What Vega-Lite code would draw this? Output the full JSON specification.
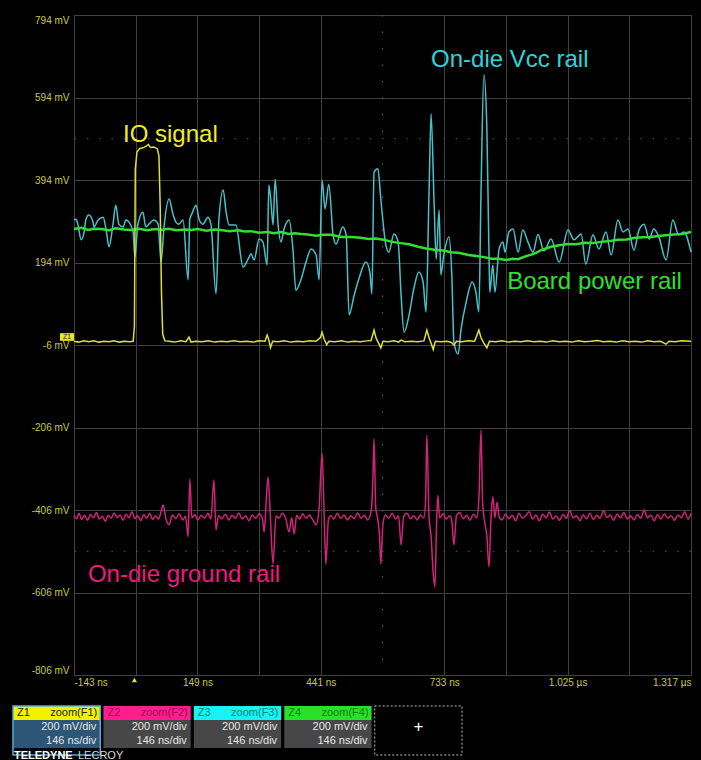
{
  "$schema": "https://vega.github.io/schema/vega-lite/v6.json",
  "background": "#000000",
  "padding": {"left": 8, "top": 13, "right": 11, "bottom": 0},
  "spacing": 9,
  "datasets": {
    "traces": [
      {"s":"m","t":-143,"v":-418},{"s":"m","t":-137,"v":-427},{"s":"m","t":-131,"v":-414},{"s":"m","t":-125,"v":-429},{"s":"m","t":-118,"v":-419},{"s":"m","t":-111,"v":-431},{"s":"m","t":-104,"v":-417},{"s":"m","t":-97,"v":-425},{"s":"m","t":-90,"v":-412},{"s":"m","t":-83,"v":-428},{"s":"m","t":-76,"v":-421},{"s":"m","t":-69,"v":-433},{"s":"m","t":-62,"v":-419},{"s":"m","t":-55,"v":-426},{"s":"m","t":-48,"v":-413},{"s":"m","t":-41,"v":-424},{"s":"m","t":-34,"v":-418},{"s":"m","t":-27,"v":-431},{"s":"m","t":-20,"v":-416},{"s":"m","t":-13,"v":-425},{"s":"m","t":-6,"v":-410},{"s":"m","t":1,"v":-427},{"s":"m","t":8,"v":-420},{"s":"m","t":15,"v":-432},{"s":"m","t":22,"v":-417},{"s":"m","t":29,"v":-426},{"s":"m","t":36,"v":-414},{"s":"m","t":43,"v":-429},{"s":"m","t":50,"v":-420},{"s":"m","t":57,"v":-428},{"s":"m","t":63,"v":-410},{"s":"m","t":68,"v":-394},{"s":"m","t":74,"v":-425},{"s":"m","t":82,"v":-442},{"s":"m","t":90,"v":-418},{"s":"m","t":98,"v":-427},{"s":"m","t":106,"v":-415},{"s":"m","t":114,"v":-430},{"s":"m","t":121,"v":-421},{"s":"m","t":127,"v":-471},{"s":"m","t":131,"v":-331},{"s":"m","t":136,"v":-425},{"s":"m","t":143,"v":-417},{"s":"m","t":150,"v":-430},{"s":"m","t":158,"v":-419},{"s":"m","t":166,"v":-426},{"s":"m","t":174,"v":-414},{"s":"m","t":181,"v":-428},{"s":"m","t":188,"v":-333},{"s":"m","t":193,"v":-454},{"s":"m","t":199,"v":-420},{"s":"m","t":207,"v":-427},{"s":"m","t":215,"v":-416},{"s":"m","t":223,"v":-430},{"s":"m","t":231,"v":-419},{"s":"m","t":239,"v":-426},{"s":"m","t":247,"v":-413},{"s":"m","t":255,"v":-428},{"s":"m","t":263,"v":-420},{"s":"m","t":271,"v":-432},{"s":"m","t":279,"v":-418},{"s":"m","t":287,"v":-426},{"s":"m","t":295,"v":-415},{"s":"m","t":303,"v":-428},{"s":"m","t":307,"v":-459},{"s":"m","t":311,"v":-400},{"s":"m","t":316,"v":-326},{"s":"m","t":322,"v":-430},{"s":"m","t":328,"v":-537},{"s":"m","t":335,"v":-420},{"s":"m","t":342,"v":-426},{"s":"m","t":350,"v":-414},{"s":"m","t":358,"v":-427},{"s":"m","t":366,"v":-459},{"s":"m","t":372,"v":-425},{"s":"m","t":378,"v":-464},{"s":"m","t":384,"v":-419},{"s":"m","t":391,"v":-428},{"s":"m","t":398,"v":-415},{"s":"m","t":406,"v":-426},{"s":"m","t":414,"v":-418},{"s":"m","t":422,"v":-430},{"s":"m","t":430,"v":-442},{"s":"m","t":437,"v":-400},{"s":"m","t":444,"v":-268},{"s":"m","t":449,"v":-420},{"s":"m","t":453,"v":-537},{"s":"m","t":459,"v":-430},{"s":"m","t":465,"v":-420},{"s":"m","t":472,"v":-428},{"s":"m","t":480,"v":-414},{"s":"m","t":488,"v":-426},{"s":"m","t":496,"v":-418},{"s":"m","t":504,"v":-430},{"s":"m","t":512,"v":-420},{"s":"m","t":520,"v":-427},{"s":"m","t":528,"v":-413},{"s":"m","t":536,"v":-426},{"s":"m","t":544,"v":-419},{"s":"m","t":552,"v":-430},{"s":"m","t":560,"v":-410},{"s":"m","t":564,"v":-338},{"s":"m","t":567,"v":-234},{"s":"m","t":571,"v":-400},{"s":"m","t":576,"v":-430},{"s":"m","t":580,"v":-470},{"s":"m","t":583,"v":-537},{"s":"m","t":588,"v":-440},{"s":"m","t":594,"v":-418},{"s":"m","t":602,"v":-426},{"s":"m","t":610,"v":-414},{"s":"m","t":618,"v":-428},{"s":"m","t":625,"v":-420},{"s":"m","t":631,"v":-491},{"s":"m","t":637,"v":-422},{"s":"m","t":645,"v":-414},{"s":"m","t":653,"v":-427},{"s":"m","t":661,"v":-420},{"s":"m","t":669,"v":-430},{"s":"m","t":677,"v":-418},{"s":"m","t":685,"v":-425},{"s":"m","t":689,"v":-380},{"s":"m","t":692,"v":-224},{"s":"m","t":697,"v":-420},{"s":"m","t":702,"v":-470},{"s":"m","t":707,"v":-560},{"s":"m","t":711,"v":-593},{"s":"m","t":715,"v":-440},{"s":"m","t":718,"v":-370},{"s":"m","t":722,"v":-425},{"s":"m","t":730,"v":-415},{"s":"m","t":738,"v":-428},{"s":"m","t":746,"v":-420},{"s":"m","t":751,"v":-432},{"s":"m","t":756,"v":-491},{"s":"m","t":762,"v":-420},{"s":"m","t":770,"v":-412},{"s":"m","t":778,"v":-427},{"s":"m","t":786,"v":-419},{"s":"m","t":794,"v":-431},{"s":"m","t":802,"v":-416},{"s":"m","t":810,"v":-425},{"s":"m","t":815,"v":-380},{"s":"m","t":820,"v":-212},{"s":"m","t":824,"v":-390},{"s":"m","t":828,"v":-430},{"s":"m","t":834,"v":-470},{"s":"m","t":839,"v":-544},{"s":"m","t":844,"v":-420},{"s":"m","t":848,"v":-374},{"s":"m","t":853,"v":-425},{"s":"m","t":858,"v":-387},{"s":"m","t":863,"v":-422},{"s":"m","t":870,"v":-430},{"s":"m","t":878,"v":-416},{"s":"m","t":886,"v":-427},{"s":"m","t":894,"v":-419},{"s":"m","t":902,"v":-432},{"s":"m","t":910,"v":-414},{"s":"m","t":918,"v":-426},{"s":"m","t":926,"v":-420},{"s":"m","t":934,"v":-410},{"s":"m","t":942,"v":-428},{"s":"m","t":950,"v":-418},{"s":"m","t":958,"v":-432},{"s":"m","t":966,"v":-416},{"s":"m","t":974,"v":-425},{"s":"m","t":982,"v":-411},{"s":"m","t":990,"v":-428},{"s":"m","t":998,"v":-420},{"s":"m","t":1006,"v":-431},{"s":"m","t":1014,"v":-417},{"s":"m","t":1022,"v":-426},{"s":"m","t":1030,"v":-407},{"s":"m","t":1038,"v":-425},{"s":"m","t":1046,"v":-420},{"s":"m","t":1054,"v":-432},{"s":"m","t":1062,"v":-418},{"s":"m","t":1070,"v":-427},{"s":"m","t":1078,"v":-414},{"s":"m","t":1086,"v":-429},{"s":"m","t":1094,"v":-419},{"s":"m","t":1102,"v":-426},{"s":"m","t":1110,"v":-408},{"s":"m","t":1118,"v":-424},{"s":"m","t":1126,"v":-418},{"s":"m","t":1134,"v":-431},{"s":"m","t":1142,"v":-416},{"s":"m","t":1150,"v":-425},{"s":"m","t":1158,"v":-412},{"s":"m","t":1166,"v":-428},{"s":"m","t":1174,"v":-420},{"s":"m","t":1182,"v":-430},{"s":"m","t":1190,"v":-417},{"s":"m","t":1198,"v":-426},{"s":"m","t":1206,"v":-406},{"s":"m","t":1214,"v":-425},{"s":"m","t":1222,"v":-419},{"s":"m","t":1230,"v":-432},{"s":"m","t":1238,"v":-417},{"s":"m","t":1246,"v":-428},{"s":"m","t":1254,"v":-415},{"s":"m","t":1262,"v":-426},{"s":"m","t":1270,"v":-420},{"s":"m","t":1278,"v":-431},{"s":"m","t":1286,"v":-418},{"s":"m","t":1294,"v":-425},{"s":"m","t":1302,"v":-410},{"s":"m","t":1310,"v":-428},{"s":"m","t":1317,"v":-414},

      {"s":"c","t":-143,"v":297},{"s":"c","t":-138,"v":299},{"s":"c","t":-134,"v":287},{"s":"c","t":-126,"v":249},{"s":"c","t":-119,"v":268},{"s":"c","t":-115,"v":297},{"s":"c","t":-108,"v":309},{"s":"c","t":-98,"v":292},{"s":"c","t":-96,"v":280},{"s":"c","t":-86,"v":297},{"s":"c","t":-74,"v":304},{"s":"c","t":-67,"v":273},{"s":"c","t":-60,"v":232},{"s":"c","t":-51,"v":285},{"s":"c","t":-44,"v":333},{"s":"c","t":-37,"v":287},{"s":"c","t":-27,"v":280},{"s":"c","t":-20,"v":297},{"s":"c","t":-13,"v":292},{"s":"c","t":-3,"v":268},{"s":"c","t":1,"v":207},{"s":"c","t":8,"v":285},{"s":"c","t":20,"v":316},{"s":"c","t":27,"v":280},{"s":"c","t":34,"v":287},{"s":"c","t":46,"v":297},{"s":"c","t":56,"v":287},{"s":"c","t":63,"v":195},{"s":"c","t":70,"v":280},{"s":"c","t":82,"v":348},{"s":"c","t":91,"v":312},{"s":"c","t":98,"v":292},{"s":"c","t":105,"v":287},{"s":"c","t":115,"v":297},{"s":"c","t":127,"v":152},{"s":"c","t":131,"v":299},{"s":"c","t":136,"v":312},{"s":"c","t":146,"v":333},{"s":"c","t":153,"v":299},{"s":"c","t":162,"v":287},{"s":"c","t":174,"v":304},{"s":"c","t":181,"v":287},{"s":"c","t":193,"v":118},{"s":"c","t":200,"v":299},{"s":"c","t":210,"v":370},{"s":"c","t":217,"v":316},{"s":"c","t":224,"v":285},{"s":"c","t":240,"v":285},{"s":"c","t":257,"v":183},{"s":"c","t":269,"v":202},{"s":"c","t":276,"v":215},{"s":"c","t":283,"v":200},{"s":"c","t":295,"v":251},{"s":"c","t":304,"v":244},{"s":"c","t":314,"v":188},{"s":"c","t":318,"v":382},{"s":"c","t":323,"v":341},{"s":"c","t":328,"v":285},{"s":"c","t":333,"v":396},{"s":"c","t":340,"v":285},{"s":"c","t":347,"v":244},{"s":"c","t":354,"v":275},{"s":"c","t":366,"v":297},{"s":"c","t":375,"v":227},{"s":"c","t":382,"v":127},{"s":"c","t":394,"v":152},{"s":"c","t":406,"v":195},{"s":"c","t":418,"v":227},{"s":"c","t":430,"v":212},{"s":"c","t":437,"v":152},{"s":"c","t":444,"v":394},{"s":"c","t":451,"v":324},{"s":"c","t":460,"v":384},{"s":"c","t":470,"v":261},{"s":"c","t":477,"v":239},{"s":"c","t":493,"v":280},{"s":"c","t":501,"v":261},{"s":"c","t":508,"v":67},{"s":"c","t":520,"v":115},{"s":"c","t":531,"v":154},{"s":"c","t":548,"v":195},{"s":"c","t":557,"v":171},{"s":"c","t":562,"v":118},{"s":"c","t":567,"v":413},{"s":"c","t":576,"v":421},{"s":"c","t":583,"v":348},{"s":"c","t":595,"v":236},{"s":"c","t":602,"v":219},{"s":"c","t":614,"v":263},{"s":"c","t":624,"v":244},{"s":"c","t":631,"v":115},{"s":"c","t":638,"v":25},{"s":"c","t":650,"v":67},{"s":"c","t":661,"v":130},{"s":"c","t":673,"v":171},{"s":"c","t":683,"v":147},{"s":"c","t":690,"v":74},{"s":"c","t":697,"v":358},{"s":"c","t":702,"v":554},{"s":"c","t":709,"v":341},{"s":"c","t":714,"v":202},{"s":"c","t":721,"v":321},{"s":"c","t":725,"v":164},{"s":"c","t":732,"v":212},{"s":"c","t":744,"v":256},{"s":"c","t":751,"v":164},{"s":"c","t":756,"v":1},{"s":"c","t":766,"v":-28},{"s":"c","t":773,"v":33},{"s":"c","t":785,"v":98},{"s":"c","t":799,"v":147},{"s":"c","t":808,"v":122},{"s":"c","t":815,"v":74},{"s":"c","t":820,"v":358},{"s":"c","t":827,"v":649},{"s":"c","t":834,"v":518},{"s":"c","t":839,"v":212},{"s":"c","t":841,"v":122},{"s":"c","t":848,"v":188},{"s":"c","t":853,"v":122},{"s":"c","t":863,"v":227},{"s":"c","t":872,"v":244},{"s":"c","t":877,"v":219},{"s":"c","t":886,"v":268},{"s":"c","t":896,"v":275},{"s":"c","t":908,"v":219},{"s":"c","t":919,"v":273},{"s":"c","t":931,"v":244},{"s":"c","t":943,"v":219},{"s":"c","t":955,"v":262},{"s":"c","t":969,"v":222},{"s":"c","t":986,"v":251},{"s":"c","t":1005,"v":195},{"s":"c","t":1026,"v":273},{"s":"c","t":1040,"v":249},{"s":"c","t":1057,"v":263},{"s":"c","t":1068,"v":190},{"s":"c","t":1085,"v":261},{"s":"c","t":1099,"v":227},{"s":"c","t":1116,"v":268},{"s":"c","t":1128,"v":212},{"s":"c","t":1144,"v":297},{"s":"c","t":1156,"v":268},{"s":"c","t":1168,"v":275},{"s":"c","t":1182,"v":224},{"s":"c","t":1194,"v":273},{"s":"c","t":1206,"v":287},{"s":"c","t":1218,"v":251},{"s":"c","t":1229,"v":275},{"s":"c","t":1241,"v":256},{"s":"c","t":1258,"v":200},{"s":"c","t":1274,"v":297},{"s":"c","t":1288,"v":261},{"s":"c","t":1300,"v":268},{"s":"c","t":1317,"v":219},

      {"s":"g","t":-143,"v":275},{"s":"g","t":-125,"v":278},{"s":"g","t":-110,"v":273},{"s":"g","t":-95,"v":276},{"s":"g","t":-79,"v":275},{"s":"g","t":-60,"v":272},{"s":"g","t":-45,"v":277},{"s":"g","t":-25,"v":274},{"s":"g","t":-8,"v":273},{"s":"g","t":10,"v":276},{"s":"g","t":30,"v":272},{"s":"g","t":50,"v":275},{"s":"g","t":63,"v":273},{"s":"g","t":80,"v":276},{"s":"g","t":100,"v":272},{"s":"g","t":120,"v":274},{"s":"g","t":134,"v":273},{"s":"g","t":150,"v":275},{"s":"g","t":170,"v":271},{"s":"g","t":190,"v":274},{"s":"g","t":205,"v":273},{"s":"g","t":225,"v":270},{"s":"g","t":245,"v":272},{"s":"g","t":262,"v":269},{"s":"g","t":276,"v":270},{"s":"g","t":295,"v":266},{"s":"g","t":315,"v":268},{"s":"g","t":330,"v":265},{"s":"g","t":347,"v":268},{"s":"g","t":365,"v":263},{"s":"g","t":380,"v":265},{"s":"g","t":394,"v":263},{"s":"g","t":410,"v":262},{"s":"g","t":430,"v":259},{"s":"g","t":445,"v":261},{"s":"g","t":465,"v":261},{"s":"g","t":490,"v":256},{"s":"g","t":512,"v":256},{"s":"g","t":535,"v":254},{"s":"g","t":555,"v":251},{"s":"g","t":570,"v":252},{"s":"g","t":590,"v":249},{"s":"g","t":610,"v":244},{"s":"g","t":630,"v":241},{"s":"g","t":650,"v":238},{"s":"g","t":671,"v":232},{"s":"g","t":690,"v":228},{"s":"g","t":710,"v":225},{"s":"g","t":730,"v":223},{"s":"g","t":749,"v":219},{"s":"g","t":770,"v":217},{"s":"g","t":790,"v":212},{"s":"g","t":810,"v":210},{"s":"g","t":827,"v":207},{"s":"g","t":845,"v":203},{"s":"g","t":860,"v":203},{"s":"g","t":880,"v":200},{"s":"g","t":895,"v":203},{"s":"g","t":908,"v":202},{"s":"g","t":925,"v":209},{"s":"g","t":945,"v":215},{"s":"g","t":965,"v":225},{"s":"g","t":986,"v":232},{"s":"g","t":1005,"v":236},{"s":"g","t":1026,"v":239},{"s":"g","t":1045,"v":238},{"s":"g","t":1065,"v":242},{"s":"g","t":1085,"v":241},{"s":"g","t":1104,"v":244},{"s":"g","t":1125,"v":246},{"s":"g","t":1144,"v":249},{"s":"g","t":1165,"v":250},{"s":"g","t":1185,"v":254},{"s":"g","t":1205,"v":255},{"s":"g","t":1222,"v":256},{"s":"g","t":1245,"v":259},{"s":"g","t":1270,"v":261},{"s":"g","t":1295,"v":263},{"s":"g","t":1317,"v":268},

      {"s":"y","t":-143,"v":3},{"s":"y","t":-132,"v":1},{"s":"y","t":-120,"v":4},{"s":"y","t":-108,"v":2},{"s":"y","t":-96,"v":4},{"s":"y","t":-84,"v":1},{"s":"y","t":-72,"v":3},{"s":"y","t":-60,"v":2},{"s":"y","t":-48,"v":4},{"s":"y","t":-36,"v":1},{"s":"y","t":-24,"v":3},{"s":"y","t":-12,"v":2},{"s":"y","t":-3,"v":3},{"s":"y","t":0,"v":40},{"s":"y","t":2,"v":420},{"s":"y","t":6,"v":462},{"s":"y","t":12,"v":470},{"s":"y","t":20,"v":472},{"s":"y","t":28,"v":476},{"s":"y","t":33,"v":480},{"s":"y","t":38,"v":473},{"s":"y","t":46,"v":474},{"s":"y","t":54,"v":470},{"s":"y","t":58,"v":452},{"s":"y","t":61,"v":330},{"s":"y","t":64,"v":120},{"s":"y","t":67,"v":20},{"s":"y","t":72,"v":4},{"s":"y","t":82,"v":3},{"s":"y","t":95,"v":1},{"s":"y","t":110,"v":4},{"s":"y","t":122,"v":2},{"s":"y","t":129,"v":13},{"s":"y","t":134,"v":1},{"s":"y","t":145,"v":3},{"s":"y","t":160,"v":2},{"s":"y","t":175,"v":4},{"s":"y","t":190,"v":1},{"s":"y","t":205,"v":3},{"s":"y","t":220,"v":2},{"s":"y","t":235,"v":4},{"s":"y","t":250,"v":2},{"s":"y","t":265,"v":3},{"s":"y","t":280,"v":1},{"s":"y","t":295,"v":4},{"s":"y","t":309,"v":3},{"s":"y","t":314,"v":18},{"s":"y","t":318,"v":6},{"s":"y","t":322,"v":-12},{"s":"y","t":327,"v":3},{"s":"y","t":340,"v":2},{"s":"y","t":355,"v":4},{"s":"y","t":370,"v":1},{"s":"y","t":385,"v":3},{"s":"y","t":400,"v":2},{"s":"y","t":415,"v":4},{"s":"y","t":430,"v":3},{"s":"y","t":440,"v":12},{"s":"y","t":444,"v":25},{"s":"y","t":449,"v":8},{"s":"y","t":455,"v":-5},{"s":"y","t":460,"v":3},{"s":"y","t":475,"v":2},{"s":"y","t":490,"v":4},{"s":"y","t":505,"v":1},{"s":"y","t":520,"v":3},{"s":"y","t":535,"v":2},{"s":"y","t":550,"v":4},{"s":"y","t":560,"v":5},{"s":"y","t":567,"v":30},{"s":"y","t":572,"v":10},{"s":"y","t":578,"v":-2},{"s":"y","t":583,"v":-13},{"s":"y","t":588,"v":3},{"s":"y","t":600,"v":2},{"s":"y","t":615,"v":4},{"s":"y","t":625,"v":1},{"s":"y","t":631,"v":6},{"s":"y","t":640,"v":2},{"s":"y","t":655,"v":3},{"s":"y","t":670,"v":2},{"s":"y","t":685,"v":4},{"s":"y","t":692,"v":30},{"s":"y","t":697,"v":12},{"s":"y","t":703,"v":-5},{"s":"y","t":707,"v":-17},{"s":"y","t":712,"v":3},{"s":"y","t":725,"v":2},{"s":"y","t":740,"v":3},{"s":"y","t":750,"v":0},{"s":"y","t":756,"v":-6},{"s":"y","t":762,"v":3},{"s":"y","t":775,"v":2},{"s":"y","t":790,"v":4},{"s":"y","t":805,"v":3},{"s":"y","t":815,"v":30},{"s":"y","t":820,"v":12},{"s":"y","t":826,"v":0},{"s":"y","t":834,"v":-13},{"s":"y","t":840,"v":3},{"s":"y","t":855,"v":2},{"s":"y","t":870,"v":4},{"s":"y","t":885,"v":1},{"s":"y","t":900,"v":3},{"s":"y","t":915,"v":2},{"s":"y","t":930,"v":4},{"s":"y","t":945,"v":2},{"s":"y","t":960,"v":3},{"s":"y","t":975,"v":1},{"s":"y","t":990,"v":4},{"s":"y","t":1005,"v":2},{"s":"y","t":1020,"v":3},{"s":"y","t":1035,"v":1},{"s":"y","t":1050,"v":4},{"s":"y","t":1065,"v":2},{"s":"y","t":1080,"v":3},{"s":"y","t":1095,"v":5},{"s":"y","t":1110,"v":2},{"s":"y","t":1125,"v":3},{"s":"y","t":1140,"v":1},{"s":"y","t":1155,"v":4},{"s":"y","t":1170,"v":2},{"s":"y","t":1185,"v":3},{"s":"y","t":1200,"v":1},{"s":"y","t":1215,"v":4},{"s":"y","t":1230,"v":2},{"s":"y","t":1245,"v":3},{"s":"y","t":1258,"v":-4},{"s":"y","t":1265,"v":3},{"s":"y","t":1280,"v":2},{"s":"y","t":1295,"v":4},{"s":"y","t":1317,"v":3}
    ],
    "notes": [
      {"label": "IO signal", "t": -27, "v": 503},
      {"label": "On-die Vcc rail", "t": 702, "v": 685},
      {"label": "Board power rail", "t": 882, "v": 147},
      {"label": "On-die ground rail", "t": -110, "v": -564}
    ],
    "panel": [
      {"ch": "Z1", "part": "header", "left": "Z1", "right": "zoom(F1)"},
      {"ch": "Z1", "part": "line1", "right": "200 mV/div"},
      {"ch": "Z1", "part": "line2", "right": "146 ns/div"},
      {"ch": "Z2", "part": "header", "left": "Z2", "right": "zoom(F2)"},
      {"ch": "Z2", "part": "line1", "right": "200 mV/div"},
      {"ch": "Z2", "part": "line2", "right": "146 ns/div"},
      {"ch": "Z3", "part": "header", "left": "Z3", "right": "zoom(F3)"},
      {"ch": "Z3", "part": "line1", "right": "200 mV/div"},
      {"ch": "Z3", "part": "line2", "right": "146 ns/div"},
      {"ch": "Z4", "part": "header", "left": "Z4", "right": "zoom(F4)"},
      {"ch": "Z4", "part": "line1", "right": "200 mV/div"},
      {"ch": "Z4", "part": "line2", "right": "146 ns/div"},
      {"ch": "+", "part": "line1", "right": "+"},
      {"ch": "Z1", "part": "footer", "brand": "TELEDYNE", "brand2": "LECROY"}
    ]
  },
  "vconcat": [
    {
      "width": 617,
      "height": 660,
      "layer": [
        {
          "data": {"name": "traces"},
          "transform": [{"filter": "datum.s === 'm'"}],
          "mark": {"type": "line", "color": "#d0237a", "strokeWidth": 1.5, "interpolate": "monotone"},
          "encoding": {
            "x": {"field": "t", "type": "quantitative", "title": null,
              "scale": {"domain": [-143, 1317], "nice": false, "zero": false},
              "axis": {"values": [-143, 3, 149, 295, 441, 733, 879, 1025, 1171, 1317],
                "labelExpr": "indexof([-143,149,441,733,1025,1317], datum.value) >= 0 ? (datum.value >= 1000 ? format(datum.value / 1000, '.3f') + ' µs' : datum.value + ' ns') : ''",
                "labelFlush": true, "labelOverlap": false, "labelPadding": 2, "minExtent": 20, "maxExtent": 20, "grid": true}},
            "y": {"field": "v", "type": "quantitative", "title": null,
              "scale": {"domain": [-806, 794], "nice": false, "zero": false},
              "axis": {"values": [-806, -606, -406, -206, -6, 194, 394, 594, 794],
                "labelExpr": "datum.value + ' mV'",
                "labelFlush": true, "labelOverlap": false, "labelPadding": 5, "minExtent": 65, "maxExtent": 65, "grid": true}}
          }
        },
        {
          "data": {"values": [{"v": 494}, {"v": -506}]},
          "mark": {"type": "rule", "color": "#5a5a5a", "strokeWidth": 1.2, "strokeDash": [1.5, 10.8]},
          "encoding": {
            "y": {"field": "v", "type": "quantitative", "title": null, "scale": {"domain": [-806, 794], "nice": false, "zero": false}}
          }
        },
        {
          "data": {"values": [{"t": 587}]},
          "mark": {"type": "rule", "color": "#5a5a5a", "strokeWidth": 1.2, "strokeDash": [1.5, 15]},
          "encoding": {
            "x": {"field": "t", "type": "quantitative", "title": null, "scale": {"domain": [-143, 1317], "nice": false, "zero": false}}
          }
        },
        {
          "data": {"name": "traces"},
          "transform": [{"filter": "datum.s === 'c'"}],
          "mark": {"type": "line", "color": "#45c3cc", "strokeWidth": 1.5, "interpolate": "monotone"},
          "encoding": {
            "x": {"field": "t", "type": "quantitative", "title": null, "scale": {"domain": [-143, 1317], "nice": false, "zero": false}},
            "y": {"field": "v", "type": "quantitative", "title": null, "scale": {"domain": [-806, 794], "nice": false, "zero": false}}
          }
        },
        {
          "data": {"name": "traces"},
          "transform": [{"filter": "datum.s === 'g'"}],
          "mark": {"type": "line", "color": "#33dd33", "strokeWidth": 2.5},
          "encoding": {
            "x": {"field": "t", "type": "quantitative", "title": null, "scale": {"domain": [-143, 1317], "nice": false, "zero": false}},
            "y": {"field": "v", "type": "quantitative", "title": null, "scale": {"domain": [-806, 794], "nice": false, "zero": false}}
          }
        },
        {
          "data": {"name": "traces"},
          "transform": [{"filter": "datum.s === 'y'"}],
          "mark": {"type": "line", "color": "#dede3c", "strokeWidth": 1.5},
          "encoding": {
            "x": {"field": "t", "type": "quantitative", "title": null, "scale": {"domain": [-143, 1317], "nice": false, "zero": false}},
            "y": {"field": "v", "type": "quantitative", "title": null, "scale": {"domain": [-806, 794], "nice": false, "zero": false}}
          }
        },
        {
          "data": {"name": "notes"},
          "mark": {"type": "text", "align": "left", "baseline": "middle", "fontSize": 24, "font": "Liberation Sans"},
          "encoding": {
            "x": {"field": "t", "type": "quantitative", "title": null, "scale": {"domain": [-143, 1317], "nice": false, "zero": false}},
            "y": {"field": "v", "type": "quantitative", "title": null, "scale": {"domain": [-806, 794], "nice": false, "zero": false}},
            "text": {"field": "label"},
            "color": {"field": "label", "type": "nominal", "legend": null,
              "scale": {"domain": ["IO signal", "On-die Vcc rail", "Board power rail", "On-die ground rail"],
                "range": ["#eeee22", "#2cd4dc", "#2ee02e", "#ee1a7e"]}}
          }
        },
        {
          "data": {"values": [{"t": -143, "v": -6, "tag": "Z1"}]},
          "mark": {"type": "point", "shape": "M-1,-0.55H1V0.55H-1Z", "size": 196, "filled": true, "color": "#e8e820", "opacity": 1, "xOffset": -7, "yOffset": -8},
          "encoding": {
            "x": {"field": "t", "type": "quantitative", "title": null, "scale": {"domain": [-143, 1317], "nice": false, "zero": false}},
            "y": {"field": "v", "type": "quantitative", "title": null, "scale": {"domain": [-806, 794], "nice": false, "zero": false}}
          }
        },
        {
          "data": {"values": [{"t": -143, "v": -6, "tag": "Z1"}]},
          "mark": {"type": "text", "fontSize": 7, "color": "#222222", "xOffset": -7, "yOffset": -8, "baseline": "middle", "align": "center"},
          "encoding": {
            "x": {"field": "t", "type": "quantitative", "title": null, "scale": {"domain": [-143, 1317], "nice": false, "zero": false}},
            "y": {"field": "v", "type": "quantitative", "title": null, "scale": {"domain": [-806, 794], "nice": false, "zero": false}},
            "text": {"field": "tag"}
          }
        },
        {
          "data": {"values": [{"t": 0, "v": -806}]},
          "mark": {"type": "point", "shape": "triangle-up", "size": 25, "filled": true, "color": "#e8e820", "opacity": 1, "yOffset": 5},
          "encoding": {
            "x": {"field": "t", "type": "quantitative", "title": null, "scale": {"domain": [-143, 1317], "nice": false, "zero": false}},
            "y": {"field": "v", "type": "quantitative", "title": null, "scale": {"domain": [-806, 794], "nice": false, "zero": false}}
          }
        }
      ]
    },
    {
      "width": 617,
      "height": 56,
      "view": {"stroke": null, "fill": null},
      "data": {"name": "panel"},
      "encoding": {
        "x": {"field": "ch", "type": "nominal", "axis": null, "title": null,
          "scale": {"domain": ["Z1", "Z2", "Z3", "Z4", "+"], "range": [-61, 388], "paddingInner": 0.035, "paddingOuter": 0}}
      },
      "resolve": {"scale": {"fill": "independent"}},
      "layer": [
        {
          "transform": [{"filter": "(datum.part === 'line1' || datum.part === 'line2') && datum.ch !== '+'"}],
          "mark": {"type": "rect"},
          "encoding": {
            "y": {"field": "part", "type": "nominal", "axis": null, "title": null,
              "scale": {"domain": ["header", "line1", "line2", "footer"], "paddingInner": 0, "paddingOuter": 0}},
            "fill": {"field": "ch", "type": "nominal", "legend": null,
              "scale": {"domain": ["Z1", "Z2", "Z3", "Z4"], "range": ["#2c5576", "#474747", "#474747", "#474747"]}}
          }
        },
        {
          "transform": [{"filter": "datum.part === 'header'"}],
          "mark": {"type": "rect"},
          "encoding": {
            "y": {"field": "part", "type": "nominal", "axis": null, "title": null,
              "scale": {"domain": ["header", "line1", "line2", "footer"], "paddingInner": 0, "paddingOuter": 0}},
            "fill": {"field": "ch", "type": "nominal", "legend": null,
              "scale": {"domain": ["Z1", "Z2", "Z3", "Z4"], "range": ["#f2f200", "#ff1e8e", "#18f2f2", "#2ae02a"]}}
          }
        },
        {
          "transform": [{"filter": "datum.ch === 'Z1' && datum.part === 'header'"}],
          "mark": {"type": "rect", "fill": null, "stroke": "#5aa8d8", "strokeWidth": 1.5},
          "encoding": {
            "y": {"datum": "header", "type": "nominal", "bandPosition": 0, "axis": null,
              "scale": {"domain": ["header", "line1", "line2", "footer"], "paddingInner": 0, "paddingOuter": 0}},
            "y2": {"datum": "footer"}
          }
        },
        {
          "transform": [{"filter": "datum.part === 'header'"}],
          "mark": {"type": "text", "align": "left", "baseline": "middle", "fontSize": 11, "dx": 4},
          "encoding": {
            "x": {"field": "ch", "type": "nominal", "bandPosition": 0},
            "y": {"field": "part", "type": "nominal", "axis": null,
              "scale": {"domain": ["header", "line1", "line2", "footer"], "paddingInner": 0, "paddingOuter": 0}},
            "text": {"field": "left"},
            "fill": {"field": "ch", "type": "nominal", "legend": null,
              "scale": {"domain": ["Z1", "Z2", "Z3", "Z4"], "range": ["#222222", "#a00a55", "#0a8080", "#0a800a"]}}
          }
        },
        {
          "transform": [{"filter": "datum.part === 'header'"}],
          "mark": {"type": "text", "align": "right", "baseline": "middle", "fontSize": 11, "dx": -3},
          "encoding": {
            "x": {"field": "ch", "type": "nominal", "bandPosition": 1},
            "y": {"field": "part", "type": "nominal", "axis": null,
              "scale": {"domain": ["header", "line1", "line2", "footer"], "paddingInner": 0, "paddingOuter": 0}},
            "text": {"field": "right"},
            "fill": {"field": "ch", "type": "nominal", "legend": null,
              "scale": {"domain": ["Z1", "Z2", "Z3", "Z4"], "range": ["#222222", "#a00a55", "#0a8080", "#0a800a"]}}
          }
        },
        {
          "transform": [{"filter": "(datum.part === 'line1' || datum.part === 'line2') && datum.ch !== '+'"}],
          "mark": {"type": "text", "align": "right", "baseline": "middle", "fontSize": 11, "dx": -4, "color": "#e8e8e8"},
          "encoding": {
            "x": {"field": "ch", "type": "nominal", "bandPosition": 1},
            "y": {"field": "part", "type": "nominal", "axis": null,
              "scale": {"domain": ["header", "line1", "line2", "footer"], "paddingInner": 0, "paddingOuter": 0}},
            "text": {"field": "right"}
          }
        },
        {
          "transform": [{"filter": "datum.ch === '+'"}],
          "mark": {"type": "rect", "fill": "#000000", "stroke": "#bbbbbb", "strokeWidth": 1, "strokeDash": [2, 2]},
          "encoding": {
            "y": {"datum": "header", "type": "nominal", "bandPosition": 0, "axis": null,
              "scale": {"domain": ["header", "line1", "line2", "footer"], "paddingInner": 0, "paddingOuter": 0}},
            "y2": {"datum": "footer"}
          }
        },
        {
          "transform": [{"filter": "datum.ch === '+'"}],
          "mark": {"type": "text", "align": "center", "baseline": "middle", "fontSize": 17, "color": "#ffffff"},
          "encoding": {
            "y": {"field": "part", "type": "nominal", "axis": null,
              "scale": {"domain": ["header", "line1", "line2", "footer"], "paddingInner": 0, "paddingOuter": 0}},
            "text": {"field": "right"}
          }
        },
        {
          "transform": [{"filter": "datum.part === 'footer'"}],
          "mark": {"type": "text", "align": "left", "baseline": "middle", "fontSize": 11, "fontWeight": "bold", "dx": 1, "dy": 1, "color": "#ffffff"},
          "encoding": {
            "x": {"field": "ch", "type": "nominal", "bandPosition": 0},
            "y": {"field": "part", "type": "nominal", "axis": null,
              "scale": {"domain": ["header", "line1", "line2", "footer"], "paddingInner": 0, "paddingOuter": 0}},
            "text": {"field": "brand"}
          }
        },
        {
          "transform": [{"filter": "datum.part === 'footer'"}],
          "mark": {"type": "text", "align": "left", "baseline": "middle", "fontSize": 11, "dx": 65, "dy": 1, "color": "#d8d8d8"},
          "encoding": {
            "x": {"field": "ch", "type": "nominal", "bandPosition": 0},
            "y": {"field": "part", "type": "nominal", "axis": null,
              "scale": {"domain": ["header", "line1", "line2", "footer"], "paddingInner": 0, "paddingOuter": 0}},
            "text": {"field": "brand2"}
          }
        }
      ]
    }
  ],
  "config": {
    "font": "Liberation Sans",
    "view": {"stroke": "#5a5a5a", "fill": "#000000"},
    "axis": {
      "labelFont": "Liberation Sans",
      "labelFontSize": 10,
      "labelColor": "#c8c846",
      "gridColor": "#404040",
      "gridWidth": 1,
      "domain": false,
      "ticks": false
    }
  }
}
